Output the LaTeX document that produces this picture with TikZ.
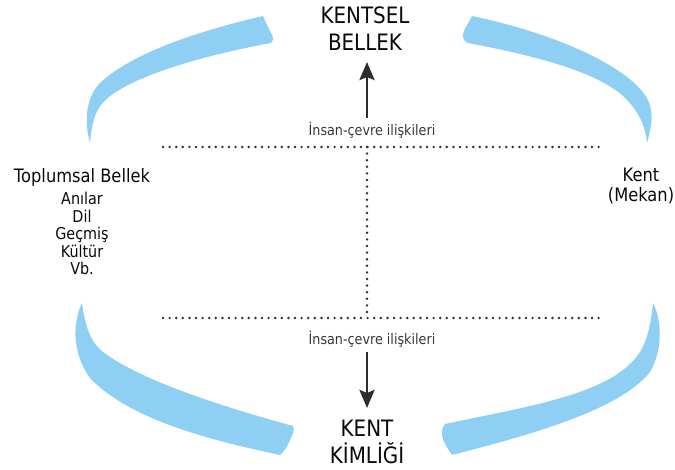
\documentclass[tikz,border=0pt]{standalone}
\usepackage{fontspec}
\setmainfont{DejaVu Sans}[FakeStretch=0.88]
\usetikzlibrary{arrows.meta}
\definecolor{swoosh}{RGB}{142,207,243}
\definecolor{ink}{RGB}{10,10,10}
\definecolor{darkline}{RGB}{45,45,45}
\definecolor{labelgray}{RGB}{55,55,55}
\tikzset{
  swooshfill/.style={fill=swoosh,draw=none},
  bigtitle/.style={font=\fontsize{22.6}{26.5}\selectfont,align=center,inner sep=0pt,anchor=north,text=ink},
  sidetitle/.style={font=\fontsize{18.5}{20}\selectfont,align=center,inner sep=0pt,anchor=north,text=ink},
  sidelist/.style={font=\fontsize{16.3}{17.5}\selectfont,align=center,inner sep=0pt,anchor=north,text=ink},
  rellabel/.style={font=\fontsize{14.5}{16}\selectfont,inner sep=0pt,text=labelgray},
  dotline/.style={draw=darkline,line width=2.7pt,line cap=round,dash pattern=on 0pt off 6.6pt},
  bigarrow/.style={draw=darkline,line width=2.7pt,-{Stealth[length=18pt,width=15pt,inset=3pt]}}
}
\begin{document}
\begin{tikzpicture}[x=1pt,y=-1pt]
\useasboundingbox (0,0) rectangle (675,470);
% swooshes
\path[swooshfill] (90,143) .. controls (85,125) and (84,100) .. (100,83)
  .. controls (130,55) and (190,33) .. (263,16)
  .. controls (265,21) and (268,27) .. (272,35)
  .. controls (274,39) and (273,41) .. (271,43)
  .. controls (200,56) and (135,76) .. (109,97)
  .. controls (95,108) and (92,122) .. (90,143) -- cycle;
\path[swooshfill] (472,16) .. controls (540,30) and (620,60) .. (645,95)
  .. controls (655,110) and (652,125) .. (647,143)
  .. controls (645,126) and (640,112) .. (622,95)
  .. controls (590,68) and (520,53) .. (468,43)
  .. controls (461,40) and (462,33) .. (466,27) -- cycle;
\path[swooshfill] (82,303) .. controls (74,320) and (70,350) .. (90,378)
  .. controls (130,420) and (210,440) .. (280,455)
  .. controls (284,452) and (287,447) .. (290,440)
  .. controls (293,434) and (295,430) .. (293,426)
  .. controls (220,406) and (140,380) .. (103,352)
  .. controls (90,342) and (85,325) .. (82,303) -- cycle;
\path[swooshfill] (653,303) .. controls (662,320) and (663,350) .. (650,372)
  .. controls (620,410) and (530,435) .. (452,455)
  .. controls (447,448) and (442,440) .. (442,433)
  .. controls (442,429) and (443,426) .. (445,424)
  .. controls (520,408) and (600,396) .. (632,362)
  .. controls (646,348) and (650,330) .. (653,303) -- cycle;
% texts
\node[bigtitle] (kb) at (365,7) {KENTSEL\\BELLEK};
\node[bigtitle] (ki) at (367,420) {KENT\\KİMLİĞİ};
\node[sidetitle] (tb) at (82,168) {Toplumsal Bellek};
\node[sidelist] (tl) at (82,192) {Anılar\\Dil\\Geçmiş\\Kültür\\Vb.};
\node[sidetitle] (km) at (641,168) {Kent\\(Mekan)};
\node[rellabel] (i1) at (372,130) {İnsan-çevre ilişkileri};
\node[rellabel] (i2) at (372,339) {İnsan-çevre ilişkileri};
% dotted frame
\coordinate (h1l) at (163,147);
\coordinate (h1r) at (600,147);
\coordinate (h2l) at (163,318);
\coordinate (h2r) at (600,318);
\coordinate (vt) at (367,147);
\coordinate (vb) at (367,318);
\draw[dotline] (h1l) -- (h1r);
\draw[dotline] (h2l) -- (h2r);
\draw[dotline] (vt) -- (vb);
% arrows
\coordinate (a1s) at (367,118);
\coordinate (a1e) at (367,62);
\coordinate (a2s) at (367,352);
\coordinate (a2e) at (367,408);
\draw[bigarrow] (a1s) -- (a1e);
\draw[bigarrow] (a2s) -- (a2e);
\end{tikzpicture}
\end{document}
